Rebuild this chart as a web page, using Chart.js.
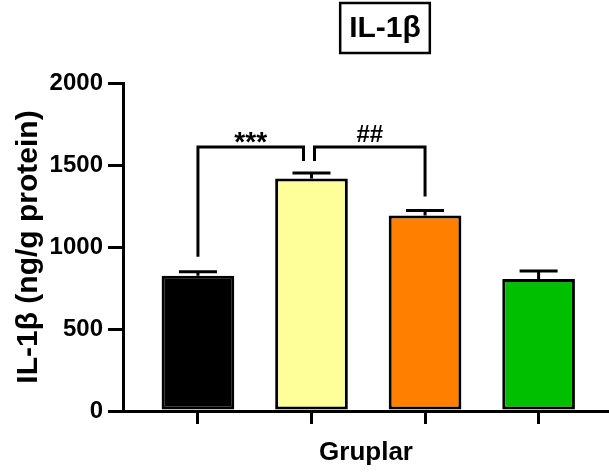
<!DOCTYPE html>
<html>
<head>
<meta charset="utf-8">
<script src="https://cdn.jsdelivr.net/npm/chart.js@4/dist/chart.umd.min.js"></script>
<style>
  html, body { margin: 0; padding: 0; background: #fff; }
  #wrap { width: 609px; height: 474px; }
</style>
</head>
<body>
<div id="wrap"><canvas id="chart" width="609" height="474"></canvas></div>
<script>
// Data
const groups = ['Grup 1', 'Grup 2', 'Grup 3', 'Grup 4'];
const means = [825, 1418, 1192, 805];
const sems = [24, 33, 30, 49];
const barColors = ['#000000', '#FFFF99', '#FF8000', '#00BF00'];
const yTicks = [0, 500, 1000, 1500, 2000];

// significance brackets: from group, to group, label, level (data units)
const brackets = [
  { from: 0, to: 1, label: '***', level: 1610 },
  { from: 1, to: 2, label: '##', level: 1610 }
];

const FONT = '"Liberation Sans", Arial, sans-serif';

// error bars + brackets + boxed title
const extrasPlugin = {
  id: 'extras',
  afterDatasetsDraw(chart) {
    const ctx = chart.ctx;
    const x = chart.scales.x;
    const y = chart.scales.y;
    ctx.save();
    ctx.strokeStyle = '#000';
    ctx.lineWidth = 3;
    ctx.lineCap = 'butt';

    // error bars (upper only)
    means.forEach((m, i) => {
      const cx = x.getPixelForValue(i);
      const y0 = y.getPixelForValue(m);
      const y1 = y.getPixelForValue(m + sems[i]);
      ctx.beginPath();
      ctx.moveTo(cx, y0);
      ctx.lineTo(cx, y1);
      ctx.moveTo(cx - 19, y1);
      ctx.lineTo(cx + 19, y1);
      ctx.stroke();
    });

    // brackets
    brackets.forEach((b, k) => {
      const xa = x.getPixelForValue(b.from) + (k === 0 ? 0 : 3);
      const xb = x.getPixelForValue(b.to) - (k === 0 ? 8 : 0);
      const top = y.getPixelForValue(b.level);
      const legA = y.getPixelForValue(means[b.from] + sems[b.from]) - (k === 0 ? 15 : 12);
      const legB = y.getPixelForValue(means[b.to] + sems[b.to]) - (k === 0 ? 12 : 14);
      ctx.beginPath();
      ctx.moveTo(xa, legA);
      ctx.lineTo(xa, top);
      ctx.lineTo(xb, top);
      ctx.lineTo(xb, legB);
      ctx.stroke();
      ctx.fillStyle = '#000';
      ctx.textAlign = 'center';
      ctx.textBaseline = 'alphabetic';
      if (b.label === '***') {
        ctx.font = 'bold 28px ' + FONT;
        ctx.fillText(b.label, (xa + xb) / 2, top + 4);
      } else {
        ctx.font = 'bold 24px ' + FONT;
        ctx.fillText(b.label, (xa + xb) / 2, top - 5);
      }
    });

    // boxed title
    ctx.font = 'bold 30px ' + FONT;
    ctx.textAlign = 'center';
    ctx.textBaseline = 'middle';
    const tx = 385, ty = 28;
    const w = ctx.measureText('IL-1β').width + 18;
    ctx.fillText('IL-1β', tx, ty + 1);
    ctx.lineWidth = 2.5;
    ctx.strokeRect(tx - w / 2, ty - 25, w, 50);
    ctx.restore();
  }
};

new Chart(document.getElementById('chart'), {
  type: 'bar',
  data: {
    datasets: [{
      label: 'IL-1β',
      data: means.map((v, i) => ({ x: i, y: v })),
      backgroundColor: barColors,
      borderColor: '#000',
      borderWidth: 3,
      borderSkipped: false,
      categoryPercentage: 1,
      barPercentage: 0.64
    }]
  },
  options: {
    responsive: false,
    animation: false,
    layout: { padding: { top: 83, left: 0, right: 0, bottom: 0 } },
    plugins: {
      legend: { display: false },
      tooltip: { enabled: false },
      title: { display: false }
    },
    scales: {
      x: {
        type: 'linear',
        min: -0.66,
        max: 3.62,
        offset: false,
        afterBuildTicks: s => { s.ticks = groups.map((g, i) => ({ value: i })); },
        afterFit: s => { s.height = 63; },
        ticks: { callback: () => '', padding: 0 },
        grid: { offset: false, drawOnChartArea: false, drawTicks: true, tickLength: 13, color: '#000', lineWidth: 3 },
        border: { color: '#000', width: 3 },
        title: {
          display: true,
          text: 'Gruplar',
          color: '#000',
          font: { family: FONT, size: 26, weight: 'bold' },
          padding: { top: 0, bottom: 6 }
        }
      },
      y: {
        min: 0,
        max: 2000,
        afterBuildTicks: s => { s.ticks = yTicks.map(v => ({ value: v })); },
        afterFit: s => { s.width = 123; },
        ticks: {
          color: '#000',
          padding: 5,
          callback: v => String(v),
          font: { family: FONT, size: 24, weight: 'bold' }
        },
        grid: { drawOnChartArea: false, drawTicks: true, tickLength: 15, color: '#000', lineWidth: 3 },
        border: { color: '#000', width: 3 },
        title: {
          display: true,
          text: 'IL-1β (ng/g protein)',
          color: '#000',
          font: { family: FONT, size: 30, weight: 'bold' },
          padding: { top: 11, bottom: 0 }
        }
      }
    }
  },
  plugins: [extrasPlugin]
});
</script>
</body>
</html>
